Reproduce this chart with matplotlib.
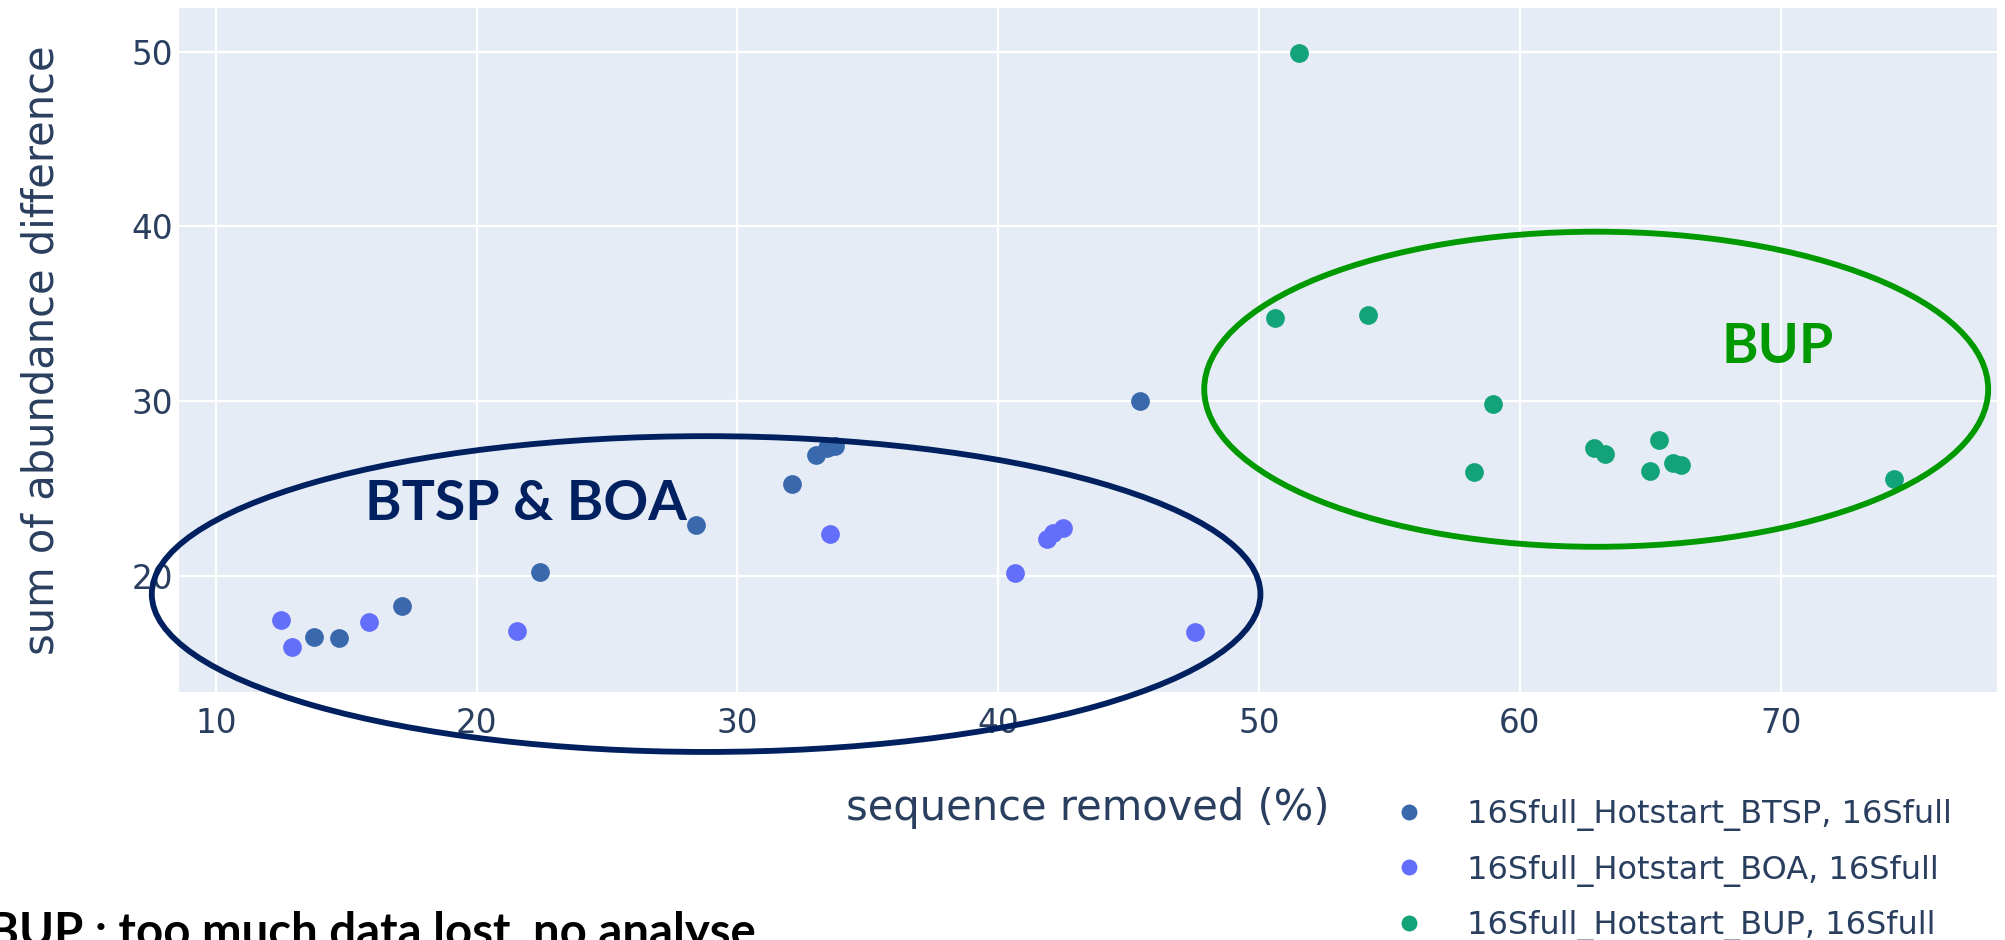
import matplotlib
matplotlib.use("Agg")
import matplotlib.pyplot as plt
from matplotlib.patches import Ellipse

# series (sequence removed %, sum of abundance difference)
btsp_x = [13.78, 14.74, 17.13, 22.43, 28.42, 32.09, 33.01, 33.43, 33.75, 45.44]
btsp_y = [16.51, 16.46, 18.29, 20.23, 22.91, 25.27, 26.91, 27.30, 27.43, 30.02]

boa_x = [12.49, 12.91, 15.87, 21.53, 33.55, 40.65, 41.86, 42.12, 42.50, 47.53]
boa_y = [17.47, 15.94, 17.37, 16.84, 22.37, 20.14, 22.09, 22.43, 22.72, 16.77]

bup_x = [51.53, 50.61, 54.18, 58.96, 58.25, 62.85, 63.27, 65.35, 65.00, 65.89, 66.18, 74.36]
bup_y = [49.91, 34.77, 34.91, 29.82, 25.96, 27.33, 26.97, 27.77, 26.02, 26.47, 26.34, 25.52]

labels = ["16Sfull_Hotstart_BTSP, 16Sfull",
          "16Sfull_Hotstart_BOA, 16Sfull",
          "16Sfull_Hotstart_BUP, 16Sfull"]
colors = ["#3a68ad", "#636efa", "#13a378"]

xticks = [10, 20, 30, 40, 50, 60, 70]
yticks = [20, 30, 40, 50]

FONT_COLOR = "#2a3f5f"
NAVY = "#002060"
GREEN = "#009900"

fig = plt.figure(figsize=(20.05, 9.40), dpi=100)
ax = fig.add_axes([0.0893, 0.2641, 0.9066, 0.7271])
ax.set_facecolor("#e5ecf6")
ax.set_xlim(8.59, 78.29)
ax.set_ylim(13.37, 52.48)
ax.set_xticks(xticks)
ax.set_yticks(yticks)
ax.grid(True, color="white", linewidth=1.6)
ax.set_axisbelow(True)
for sp in ax.spines.values():
    sp.set_visible(False)
ax.tick_params(axis="both", length=0, labelsize=23.5, labelcolor=FONT_COLOR)
ax.tick_params(axis="x", pad=11)
ax.tick_params(axis="y", pad=4)

handles = []
for xs, ys, col, lab in zip([btsp_x, boa_x, bup_x], [btsp_y, boa_y, bup_y],
                            colors, labels):
    h, = ax.plot(xs, ys, "o", color=col, markersize=13.5, markeredgewidth=0,
                 label=lab, zorder=3)
    handles.append(h)

ax.set_xlabel("sequence removed (%)", fontsize=30, color=FONT_COLOR, va="center")
ax.xaxis.set_label_coords(0.5, -0.170)
ax.set_ylabel("sum of abundance difference", fontsize=30, color=FONT_COLOR,
              va="center")
ax.yaxis.set_label_coords(-0.0754, 0.5)

# hand-drawn groupings
ax.add_patch(Ellipse((28.80, 18.96), 42.51, 18.07, fill=False, edgecolor=NAVY,
                     linewidth=4.2, clip_on=False, zorder=5))
ax.add_patch(Ellipse((62.93, 30.68), 30.06, 18.03, fill=False, edgecolor=GREEN,
                     linewidth=4.2, clip_on=False, zorder=5))
ax.text(15.72, 23.19, "BTSP & BOA", family="Lato", fontweight="bold",
        fontsize=40, color=NAVY, va="baseline", ha="left", zorder=6)
ax.text(67.75, 32.20, "BUP", family="Lato", fontweight="bold",
        fontsize=40, color=GREEN, va="baseline", ha="left", zorder=6)

fig.text(-12 / 2005, -7 / 940, "BUP : too much data lost, no analyse",
         family="Lato", fontweight="bold", fontsize=34, color="black",
         va="baseline", ha="left")

fig.legend(handles=handles, loc="upper left", bbox_to_anchor=(0.6948, 0.1500),
           frameon=False, fontsize=23, labelcolor=FONT_COLOR, borderpad=0,
           borderaxespad=0, handlelength=1.0, handletextpad=1.3,
           labelspacing=0.74, markerscale=0.85)

fig.savefig("out.png", dpi=100)
